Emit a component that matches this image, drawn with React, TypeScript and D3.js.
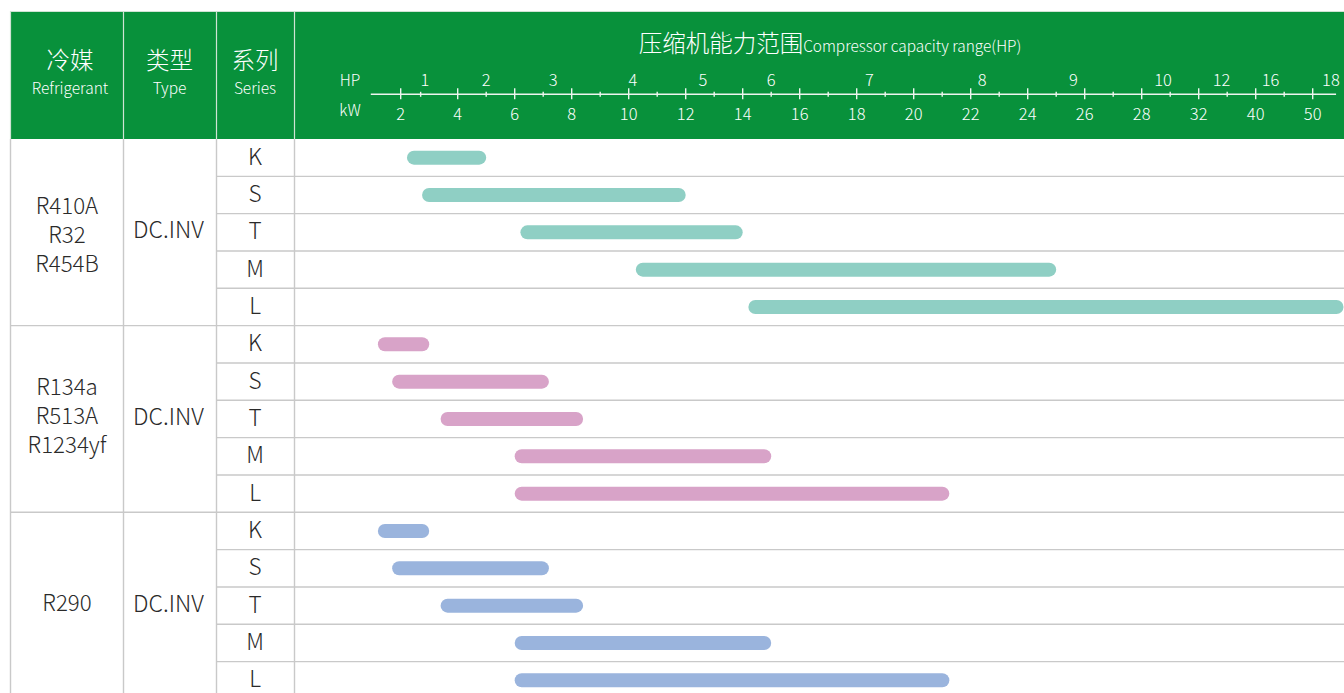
import React from 'react';
import * as d3 from 'd3';

// kW axis ticks (evenly spaced on the chart, so the scale is piecewise)
const kwTicks = [2, 4, 6, 8, 10, 12, 14, 16, 18, 20, 22, 24, 26, 28, 32, 40, 50];
const kwMinor = [2.7, 5, 7, 9, 11, 13, 15, 17, 19, 21, 23, 25, 27, 30, 36, 45];
const hpLabels = ['1', '2', '3', '4', '5', '6', '7', '8', '9', '10', '12', '16', '18'];
const hpAtKw = [2.85, 5.0, 7.35, 10.15, 12.6, 15.0, 18.45, 22.4, 25.6, 29.5, 35.2, 42.6, 53.2];
const axisExtent = [0.95, 54.1];

const seriesNames = ['K', 'S', 'T', 'M', 'L'];
const groupRefrigerants = [['R410A', 'R32', 'R454B'], ['R134a', 'R513A', 'R1234yf'], ['R290']];
const groupTypes = ['DC.INV', 'DC.INV', 'DC.INV'];
const groupColors = ['#8fcfc4', '#d8a3c8', '#9ab4dd'];

// capacity ranges in kW, [from, to] for K S T M L
const r410Ranges = [[2.22, 5.0], [2.75, 12.0], [6.2, 14.0], [10.25, 25.0], [14.2, 55.4]];
const r134Ranges = [[1.2, 3.0], [1.7, 7.2], [3.4, 8.4], [6.0, 15.0], [6.0, 21.25]];
const r290Ranges = [[1.2, 3.0], [1.7, 7.2], [3.4, 8.4], [6.0, 15.0], [6.0, 21.25]];
const groupRanges = [r410Ranges, r134Ranges, r290Ranges];

const W = 1344;
const H = 693;
const FONT = '"Noto Sans CJK SC", "Noto Sans", sans-serif';
const GREEN = '#08913b';
const cols = [10, 123, 216, 294];
const headTop = 11;
const headBottom = 139;
const rowH = 37.33;
const lineCol = '#c9c9c9';
const textCol = '#2a2a2a';
const nameShift = [3, -3, -2];

const App: React.FC = () => {
  const x = d3.scaleLinear()
    .domain(kwTicks)
    .range(kwTicks.map((_, i) => 400.7 + i * 57));

  const rows = groupRanges.flatMap((g, gi) =>
    g.map((r, si) => ({ id: `${gi}-${si}`, gi, si, from: r[0], to: r[1] }))
  );
  const y = d3.scaleBand<string>()
    .domain(rows.map(d => d.id))
    .range([headBottom, headBottom + rowH * rows.length]);

  const barH = 14;
  const axisY = 94.3;

  return (
    <svg width={W} height={H} style={{ position: 'absolute', left: 0, top: 0, display: 'block' }}
      fontFamily={FONT} fontWeight={300}>
      <rect x={0} y={0} width={W} height={H} fill="#fff" />

      {/* header */}
      <rect x={cols[0]} y={headTop} width={W - cols[0] + 5} height={headBottom - headTop} fill={GREEN} />
      {cols.map((c, i) => (
        <line key={i} x1={c + 0.5} x2={c + 0.5} y1={headTop} y2={headBottom} stroke="#cfe3d4" strokeWidth={1.2} />
      ))}
      <line x1={cols[0]} x2={W} y1={headTop + 0.5} y2={headTop + 0.5} stroke="#cfe3d4" strokeWidth={1} />
      {[['冷媒', 'Refrigerant'], ['类型', 'Type'], ['系列', 'Series']].map((t, i) => {
        const cx = i === 0 ? 70 : (cols[i] + cols[i + 1]) / 2;
        return (
          <g key={i} fill="#fff" textAnchor="middle">
            <text x={cx} y={69} fontSize={23.5}>{t[0]}</text>
            <text x={cx} y={93.5} fontSize={15.5}>{t[1]}</text>
          </g>
        );
      })}
      <text x={830} y={52} fill="#fff" textAnchor="middle">
        <tspan fontSize={23.5}>压缩机能力范围</tspan>
        <tspan fontSize={15.4}>Compressor capacity range(HP)</tspan>
      </text>

      {/* axis */}
      <line x1={x(axisExtent[0])} x2={x(axisExtent[1])} y1={axisY} y2={axisY} stroke="#eef5ef" strokeWidth={1.6} />
      {kwTicks.map(v => (
        <g key={'M' + v}>
          <line x1={x(v)} x2={x(v)} y1={axisY - 6} y2={axisY + 5} stroke="#eef5ef" strokeWidth={1.4} />
          <text x={x(v)} y={119.5} fill="#fff" fontSize={16.5} textAnchor="middle">{v}</text>
        </g>
      ))}
      {kwMinor.map(v => (
        <line key={'m' + v} x1={x(v)} x2={x(v)} y1={axisY - 2.5} y2={axisY + 2.5} stroke="#eef5ef" strokeWidth={1.4} />
      ))}
      {hpLabels.map((l, i) => (
        <text key={'hp' + l} x={x(hpAtKw[i])} y={86} fill="#fff" fontSize={16.5} textAnchor="middle">{l}</text>
      ))}
      <text x={350} y={86} fill="#fff" fontSize={15.5} textAnchor="middle">HP</text>
      <text x={350} y={116} fill="#fff" fontSize={15.5} textAnchor="middle">kW</text>

      {/* body grid */}
      {rows.map(d => {
        const yb = (y(d.id) || 0) + y.bandwidth();
        const groupEnd = d.si === seriesNames.length - 1;
        return (
          <line key={'r' + d.id} x1={groupEnd ? cols[0] : cols[2]} x2={W} y1={yb} y2={yb}
            stroke={lineCol} strokeWidth={1.4} />
        );
      })}
      {cols.map((c, i) => (
        <line key={'v' + i} x1={c + 0.5} x2={c + 0.5} y1={headBottom} y2={H} stroke={lineCol} strokeWidth={1.4} />
      ))}

      {/* group labels */}
      {groupRefrigerants.map((names, gi) => {
        const y0 = y(`${gi}-0`) || 0;
        const cy = y0 + rowH * seriesNames.length / 2;
        const lh = 29;
        return (
          <g key={'g' + gi} fill={textCol} textAnchor="middle">
            {names.map((n, k) => (
              <text key={n} x={67} y={cy + nameShift[gi] + (k - (names.length - 1) / 2) * lh} dy="0.35em"
                fontSize={22.3}>{n}</text>
            ))}
            <text x={(cols[1] + cols[2]) / 2 - 1} y={cy - 2} dy="0.35em" fontSize={23}>{groupTypes[gi]}</text>
          </g>
        );
      })}

      {/* series labels and bars */}
      {rows.map(d => {
        const cy = (y(d.id) || 0) + y.bandwidth() / 2;
        return (
          <g key={'b' + d.id}>
            <text x={(cols[2] + cols[3]) / 2} y={cy - 1} dy="0.35em" fontSize={22.5} fill={textCol} textAnchor="middle">
              {seriesNames[d.si]}
            </text>
            <rect x={x(d.from)} y={cy - barH / 2} width={x(d.to) - x(d.from)} height={barH}
              rx={barH / 2} fill={groupColors[d.gi]} />
          </g>
        );
      })}
    </svg>
  );
};

export default App;
